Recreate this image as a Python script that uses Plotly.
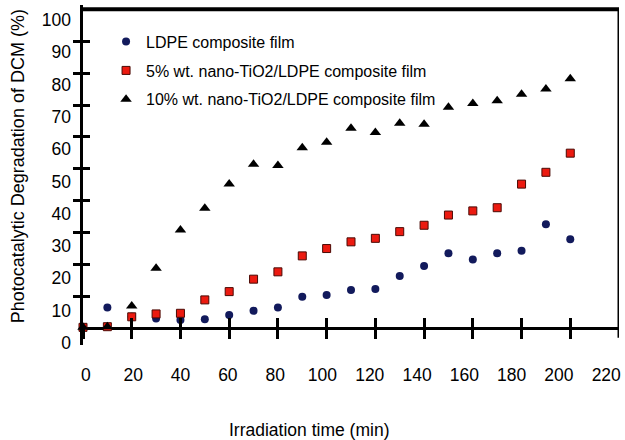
import plotly.graph_objects as go

# ---- data ----
time_min = [0, 10, 20, 30, 40, 50, 60, 70, 80, 90, 100, 110, 120, 130, 140, 150, 160, 170, 180, 190, 200]
ldpe = [0.4, 6.5, 3.6, 3.1, 2.6, 2.8, 4.2, 5.5, 6.5, 9.9, 10.4, 12.0, 12.3, 16.4, 19.5, 23.5, 21.6, 23.5, 24.3, 32.6, 27.9]
tio2_5 = [0.3, 0.5, 3.6, 4.5, 4.7, 8.9, 11.5, 15.4, 17.7, 22.7, 25.0, 27.1, 28.2, 30.3, 32.3, 35.5, 36.8, 37.8, 45.2, 48.9, 54.9]
tio2_10 = [0.3, 0.5, 7.0, 18.8, 30.8, 37.6, 45.2, 51.4, 51.0, 56.6, 58.3, 62.7, 61.4, 64.3, 64.0, 69.3, 70.5, 71.3, 73.4, 75.0, 78.2]

x_tick_marks = [0, 20, 40, 60, 80, 100, 120, 140, 160, 180, 200]
x_tick_labels = [0, 20, 40, 60, 80, 100, 120, 140, 160, 180, 200, 220]
y_tick_marks = [10, 20, 30, 40, 50, 60, 70, 80, 90]
y_tick_labels = [0, 10, 20, 30, 40, 50, 60, 70, 80, 90, 100]

series_names = [
    "LDPE composite film",
    "5% wt. nano-TiO2/LDPE composite film",
    "10% wt. nano-TiO2/LDPE composite film",
]

FONT = "Liberation Sans, Arial, sans-serif"
AX_POS = 0.049  # x-axis sits at y = 0

fig = go.Figure()
fig.add_trace(go.Scatter(
    x=time_min, y=ldpe, mode="markers", name=series_names[0], legendgroup="a",
    marker=dict(symbol="circle", size=8, color="#121a5c", line=dict(width=0)),
    cliponaxis=False))
fig.add_trace(go.Scatter(
    x=time_min, y=tio2_5, mode="markers", name=series_names[1], legendgroup="b",
    marker=dict(symbol="square", size=8, color="#ec1a10", line=dict(width=1, color="#4a0a05")),
    cliponaxis=False))
fig.add_trace(go.Scatter(
    x=time_min, y=tio2_10, mode="markers", name=series_names[2], legendgroup="c",
    marker=dict(symbol="triangle-up", size=10, color="#000000", line=dict(width=0)),
    cliponaxis=False))

fig.update_layout(
    width=625, height=440,
    margin=dict(l=83, r=4, t=5, b=95),
    paper_bgcolor="white", plot_bgcolor="white",
    font=dict(family=FONT, size=17.5, color="black"),
    showlegend=True,
    legend=dict(
        x=0.043, y=0.942, xanchor="left", yanchor="top",
        bgcolor="rgba(0,0,0,0)", borderwidth=0,
        font=dict(size=16, color="black"),
        traceorder="grouped", tracegroupgap=5, itemwidth=30,
    ),
    # tick marks of the x axis (crossing the axis line)
    xaxis=dict(
        range=[0, 220], anchor="free", position=AX_POS,
        tickvals=x_tick_marks, ticks="outside", ticklen=10, tickwidth=3, tickcolor="black",
        showticklabels=False, showline=False, showgrid=False, zeroline=False,
    ),
    xaxis2=dict(
        matches="x", overlaying="x", anchor="free", position=AX_POS,
        tickvals=x_tick_marks, ticks="inside", ticklen=10, tickwidth=3, tickcolor="black",
        showticklabels=False, showline=False, showgrid=False, zeroline=False,
    ),
    # tick labels of the x axis
    xaxis3=dict(
        range=[-1.26, 225.4], overlaying="x", anchor="free", position=AX_POS,
        tickvals=x_tick_labels, ticks="", ticklabelstandoff=34,
        showline=False, showgrid=False, zeroline=False,
        tickfont=dict(size=17.5),
    ),
    yaxis=dict(
        range=[-5.24, 101.35], anchor="x",
        tickvals=y_tick_marks, ticks="outside", ticklen=7, tickwidth=3, tickcolor="black",
        showticklabels=False, showline=True, linewidth=3, linecolor="black",
        showgrid=False, zeroline=True, zerolinewidth=3, zerolinecolor="black",
    ),
    yaxis2=dict(
        matches="y", overlaying="y", anchor="x",
        tickvals=y_tick_marks, ticks="inside", ticklen=7, tickwidth=3, tickcolor="black",
        showticklabels=False, showline=False, showgrid=False, zeroline=False,
    ),
    # tick labels of the y axis
    yaxis3=dict(
        range=[-0.62, 104.6], overlaying="y", anchor="x",
        tickvals=y_tick_labels, ticks="", ticklabelstandoff=11,
        showline=False, showgrid=False, zeroline=False,
        tickfont=dict(size=17.5),
    ),
    shapes=[
        dict(type="line", xref="x", yref="y", x0=-3, x1=220, y0=100, y1=100,
             line=dict(color="black", width=4)),
        dict(type="line", xref="x", yref="y", x0=220, x1=220, y0=-3, y1=100,
             line=dict(color="black", width=3)),
    ],
    annotations=[
        dict(text="Photocatalytic Degradation of DCM (%)", xref="paper", yref="paper",
             x=-0.1208, y=0.5265, xanchor="center", yanchor="middle", textangle=-90,
             showarrow=False, font=dict(size=18)),
        dict(text="Irradiation time (min)", xref="paper", yref="paper",
             x=0.4219, y=-0.25, xanchor="center", yanchor="middle",
             showarrow=False, font=dict(size=17.5)),
    ],
)

# empty helper traces so the overlay axes (tick marks / labels) are drawn
fig.add_trace(go.Scatter(x=[None], y=[None], xaxis="x2", yaxis="y2", showlegend=False, hoverinfo="skip"))
fig.add_trace(go.Scatter(x=[None], y=[None], xaxis="x3", yaxis="y3", showlegend=False, hoverinfo="skip"))

fig.write_html(
    "out.html",
    config={"displayModeBar": False},
    post_script="document.body.style.margin='0';document.body.style.padding='0';"
                "document.documentElement.style.overflow='hidden';",
)
